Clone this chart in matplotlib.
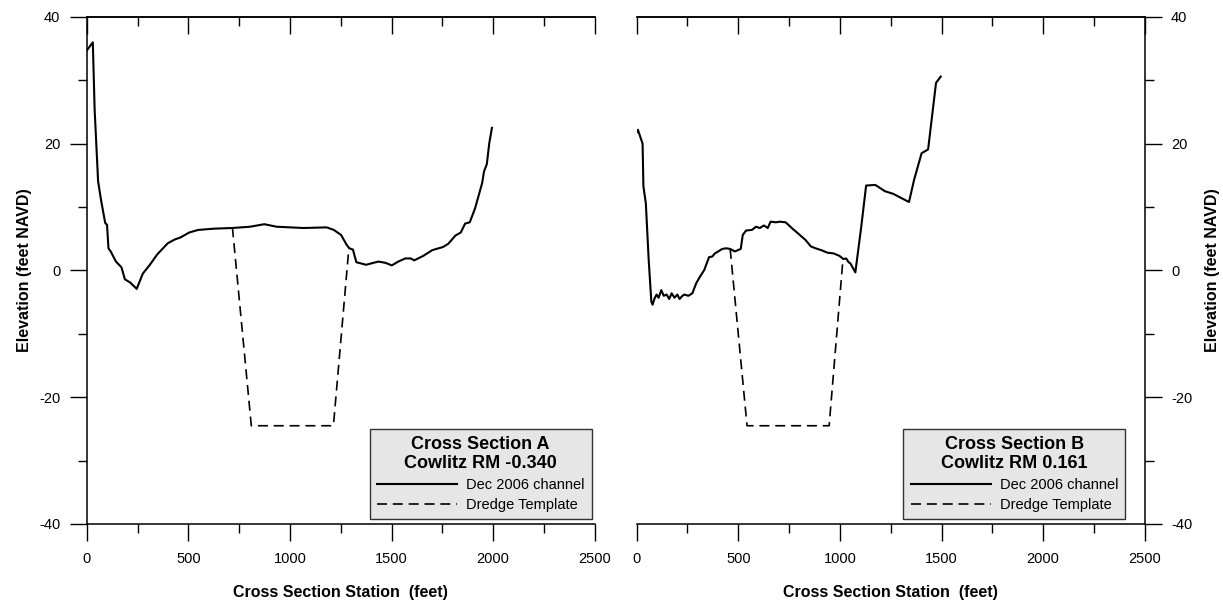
import numpy as np
from matplotlib import pyplot as plt
from matplotlib.lines import Line2D
from matplotlib.ticker import MultipleLocator

plt.rcParams['font.family'] = ['Liberation Sans', 'DejaVu Sans']
plt.rcParams['axes.unicode_minus'] = False

# Cross Section A, Cowlitz RM -0.340 (Dec 2006 survey)
sta_a = [0, 30, 39, 56, 70, 91, 100, 107, 118, 144, 171, 188, 214, 246, 276,
         311, 346, 399, 434, 461, 505, 549, 628, 716, 803, 874, 935, 1067,
         1181, 1216, 1252, 1278, 1292, 1310, 1327, 1375, 1410, 1436, 1471,
         1501, 1533, 1568, 1594, 1612, 1656, 1700, 1753, 1779, 1814, 1841,
         1862, 1885, 1911, 1946, 1955, 1969, 1981, 1994]
elev_a = [34.7, 36.0, 25.4, 14.1, 11.2, 7.5, 7.2, 3.5, 3.0, 1.4, 0.5, -1.4,
          -1.9, -2.9, -0.5, 0.9, 2.5, 4.3, 4.9, 5.2, 6.0, 6.4, 6.6, 6.7, 6.9,
          7.3, 6.9, 6.7, 6.8, 6.4, 5.6, 4.1, 3.5, 3.3, 1.3, 0.9, 1.2, 1.4,
          1.2, 0.8, 1.4, 1.9, 1.9, 1.6, 2.3, 3.2, 3.7, 4.2, 5.5, 6.0, 7.4,
          7.6, 9.8, 13.8, 15.6, 16.8, 20.1, 22.5]
dredge_sta_a = [717, 810, 1214, 1290]
dredge_elev_a = [6.8, -24.5, -24.5, 3.5]

# Cross Section B, Cowlitz RM 0.161
sta_b = [0, 6, 29, 33, 45, 59, 72, 78, 88, 98, 108, 121, 133, 147, 160, 172,
         186, 200, 211, 225, 235, 254, 274, 293, 313, 333, 342, 356, 372,
         385, 401, 421, 440, 460, 483, 512, 522, 538, 567, 587, 606, 626,
         645, 659, 685, 704, 733, 763, 792, 831, 857, 880, 909, 939, 968,
         998, 1017, 1031, 1043, 1052, 1076, 1105, 1129, 1174, 1222, 1262,
         1340, 1365, 1402, 1434, 1473, 1496]
elev_b = [21.8, 22.2, 20.0, 13.3, 10.6, 1.7, -4.9, -5.4, -4.4, -3.8, -4.3,
          -3.1, -4.0, -3.8, -4.5, -3.6, -4.3, -3.8, -4.5, -4.0, -3.8, -4.0,
          -3.6, -2.0, -0.9, 0.1, 0.9, 2.1, 2.2, 2.7, 3.0, 3.4, 3.5, 3.4, 3.0,
          3.4, 5.6, 6.3, 6.4, 6.9, 6.7, 7.1, 6.7, 7.7, 7.6, 7.7, 7.6, 6.7,
          5.9, 4.8, 3.8, 3.5, 3.2, 2.8, 2.7, 2.3, 1.8, 1.9, 1.3, 1.1, -0.3,
          6.9, 13.4, 13.5, 12.5, 12.1, 10.8, 14.3, 18.5, 19.1, 29.6, 30.6]
dredge_sta_b = [460, 543, 947, 1013]
dredge_elev_b = [3.4, -24.5, -24.5, 1.0]

titles = ['Cross Section A\nCowlitz RM -0.340', 'Cross Section B\nCowlitz RM 0.161']
entry_labels = ['Dec 2006 channel', 'Dredge Template']

fig = plt.figure(figsize=(12.23, 6.04), dpi=100)
ax_a = fig.add_axes([0.0709, 0.1325, 0.4154, 0.8394])
ax_b = fig.add_axes([0.5206, 0.1325, 0.4154, 0.8394])

dash = (6, 3.5)


def style_axes(ax, side):
    ax.set_xlim(0, 2500)
    ax.set_ylim(-40, 40)
    ax.xaxis.set_major_locator(MultipleLocator(500))
    ax.xaxis.set_minor_locator(MultipleLocator(250))
    ax.yaxis.set_major_locator(MultipleLocator(20))
    ax.yaxis.set_minor_locator(MultipleLocator(10))
    for sp in ax.spines.values():
        sp.set_linewidth(1.1)
    if side == 'left':
        ax.spines['right'].set_visible(False)
    else:
        ax.spines['left'].set_visible(False)
        ax.yaxis.tick_right()
        ax.yaxis.set_label_position('right')
    ax.tick_params(axis='both', which='major', direction='out', length=12,
                   width=1.0, labelsize=10.5)
    ax.tick_params(axis='both', which='minor', direction='out', length=6.5,
                   width=1.0)
    ax.tick_params(axis='x', which='major', pad=8)
    ax.tick_params(axis='y', which='major', pad=7)
    # top ticks point inward, bottom ones outward
    top = ax.secondary_xaxis('top')
    top.xaxis.set_major_locator(MultipleLocator(500))
    top.xaxis.set_minor_locator(MultipleLocator(250))
    top.tick_params(which='major', direction='in', length=12, width=1.0,
                    labeltop=False)
    top.tick_params(which='minor', direction='in', length=6.5, width=1.0)
    top.spines['top'].set_linewidth(1.1)
    ax.set_xlabel('Cross Section Station  (feet)', fontsize=11.5,
                  fontweight='bold', labelpad=14)
    ax.set_ylabel('Elevation (feet NAVD)', fontsize=11.5, fontweight='bold',
                  labelpad=5 if side == 'left' else 9,
                  rotation=90)


style_axes(ax_a, 'left')
style_axes(ax_b, 'right')

ax_a.plot(sta_a, elev_a, color='black', lw=1.5)
ax_a.plot(dredge_sta_a, dredge_elev_a, color='black', lw=1.2, dashes=dash)
ax_b.plot(sta_b, elev_b, color='black', lw=1.5)
ax_b.plot(dredge_sta_b, dredge_elev_b, color='black', lw=1.2, dashes=dash)

handles = [Line2D([], [], color='black', lw=1.5),
           Line2D([], [], color='black', lw=1.2, dashes=dash)]

for ax, title, anchor in [(ax_a, titles[0], (0.994, 0.01)),
                          (ax_b, titles[1], (0.962, 0.01))]:
    leg = ax.legend(handles, entry_labels, title=title, loc='lower right',
                    bbox_to_anchor=anchor, borderaxespad=0, fontsize=10.5,
                    title_fontproperties={'weight': 'bold', 'size': 13},
                    handlelength=5.5, handletextpad=0.6, labelspacing=0.4,
                    borderpad=0.5, fancybox=False, framealpha=1)
    leg.get_frame().set_facecolor('#e6e6e6')
    leg.get_frame().set_edgecolor('#333333')
    leg.get_frame().set_linewidth(1.0)
    leg.get_title().set_multialignment('center')
    leg.get_title().set_linespacing(1.15)

fig.savefig('out.png', dpi=100)
